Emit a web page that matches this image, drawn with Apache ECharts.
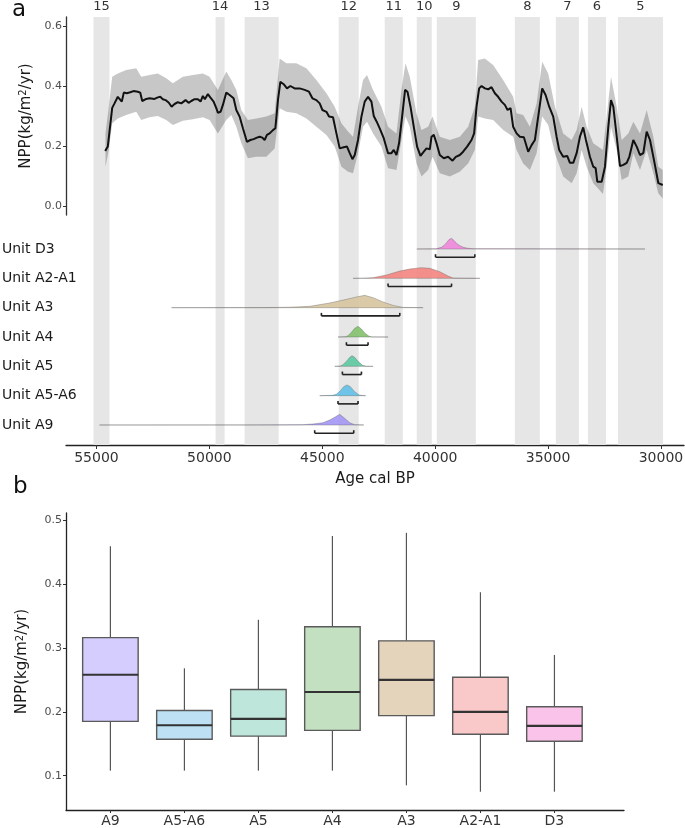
<!DOCTYPE html>
<html><head><meta charset="utf-8">
<script src="https://cdn.jsdelivr.net/npm/echarts@6/dist/echarts.min.js"></script>
<style>html,body{margin:0;padding:0;background:#fff}#c{width:685px;height:828px}</style>
</head><body><div id="c"></div>
<script>
// ---------- DATA ----------
const units = ['A9','A5-A6','A5','A4','A3','A2-A1','D3'];
const ageTicks = [30000,35000,40000,45000,50000,55000];
const nppTicksA = [0,0.2,0.4,0.6];
const nppTicksB = [0.1,0.2,0.3,0.4,0.5];

const bandLabels = ['15','14','13','12','11','10','9','8','7','6','5'];
const bandStart  = [55133,49725,48440,44273,42234,40816,39929,36472,34654,33235,31906];
const bandEnd    = [54424,49326,46933,43387,41436,40151,38200,35363,33634,32437,29911];

const ages = [54614,54499,54304,54202,54056,53980,53879,53790,53657,53506,
53360,53169,53063,52974,52797,52650,52429,52283,52176,52061,
51941,51795,51675,51542,51396,51245,51055,50922,50802,50656,
50509,50390,50288,50199,50066,49960,49813,49694,49623,49503,
49401,49251,49104,48927,48807,48661,48515,48337,48186,48040,
47894,47774,47654,47552,47450,47331,47185,47078,46963,46857,
46710,46564,46413,46223,46001,45779,45589,45438,45261,45114,
44994,44817,44702,44525,44374,44228,44050,43904,43784,43665,
43563,43417,43266,43120,42973,42823,42720,42590,42456,42278,
42087,41937,41834,41715,41600,41448,41333,41226,41093,40947,
40801,40650,40504,40384,40238,40162,40060,39941,39795,39617,
39427,39232,39086,38909,38762,38585,38390,38275,38168,38053,
37946,37800,37654,37504,37357,37211,37060,36914,36794,36661,
36546,36395,36248,36071,35880,35730,35584,35437,35260,35109,
34950,34772,34623,34507,34330,34152,34032,33885,33735,33589,
33443,33323,33146,32998,32893,32821,32626,32480,32333,32213,
32111,31992,31815,31667,31517,31402,31224,31074,30929,30782,
30633,30486,30309,30116,29922];
const npp = [0.183,0.198,0.327,0.342,0.364,0.359,0.348,0.378,0.376,0.379,
0.383,0.381,0.378,0.35,0.357,0.359,0.357,0.362,0.364,0.356,
0.353,0.344,0.331,0.34,0.346,0.342,0.353,0.344,0.35,0.356,
0.356,0.348,0.367,0.356,0.373,0.362,0.348,0.326,0.311,0.314,
0.337,0.378,0.37,0.359,0.32,0.298,0.259,0.214,0.22,0.223,
0.228,0.231,0.228,0.22,0.237,0.242,0.253,0.259,0.353,0.414,
0.406,0.392,0.4,0.392,0.392,0.387,0.381,0.359,0.353,0.342,
0.32,0.314,0.298,0.296,0.242,0.192,0.196,0.198,0.176,0.156,
0.17,0.22,0.298,0.348,0.364,0.348,0.30,0.281,0.259,0.226,
0.176,0.176,0.187,0.17,0.209,0.309,0.387,0.381,0.331,0.264,
0.198,0.167,0.181,0.192,0.189,0.231,0.237,0.209,0.17,0.159,
0.164,0.151,0.164,0.17,0.181,0.198,0.22,0.242,0.331,0.392,
0.4,0.392,0.389,0.396,0.376,0.364,0.348,0.337,0.32,0.326,
0.264,0.242,0.231,0.229,0.181,0.203,0.22,0.298,0.392,0.37,
0.331,0.298,0.231,0.187,0.164,0.167,0.144,0.144,0.176,0.231,
0.262,0.22,0.164,0.131,0.126,0.081,0.081,0.131,0.264,0.353,
0.331,0.253,0.133,0.137,0.144,0.164,0.22,0.198,0.17,0.176,
0.248,0.22,0.153,0.076,0.07];

const ribbonAges = [54601,54455,54304,54056,53684,53240,53018,52650,52283,51910,
51618,51174,50731,50288,49991,49623,49251,49029,48807,48586,
48293,47921,47478,47109,46888,46591,46148,45704,45261,44817,
44450,44153,43860,43638,43417,43195,43018,42752,42380,42087,
41715,41493,41316,41125,40828,40606,40313,40118,39795,39352,
38909,38540,38243,38097,37800,37432,36989,36546,36395,36102,
35805,35508,35260,34994,34697,34330,33956,33735,33513,33292,
32998,32567,32405,32213,31961,31740,31447,31224,30929,30633,
30338,30116,29922];
const ribbonHigh = [0.242,0.331,0.431,0.442,0.453,0.459,0.431,0.437,0.442,0.426,
0.409,0.431,0.437,0.442,0.431,0.387,0.448,0.42,0.387,0.32,
0.287,0.292,0.298,0.309,0.492,0.476,0.476,0.459,0.42,0.376,
0.331,0.276,0.248,0.231,0.331,0.42,0.437,0.387,0.331,0.264,
0.242,0.387,0.476,0.431,0.309,0.253,0.264,0.298,0.231,0.22,
0.231,0.264,0.331,0.487,0.492,0.47,0.42,0.364,0.309,0.303,
0.264,0.342,0.481,0.442,0.331,0.242,0.22,0.253,0.331,0.264,
0.209,0.187,0.298,0.431,0.331,0.22,0.242,0.281,0.242,0.32,
0.231,0.131,0.12];
const ribbonLow = [0.131,0.187,0.276,0.292,0.303,0.314,0.287,0.296,0.3,0.287,
0.27,0.284,0.289,0.296,0.287,0.242,0.287,0.303,0.264,0.209,
0.159,0.164,0.164,0.192,0.326,0.314,0.309,0.292,0.264,0.237,
0.198,0.131,0.114,0.109,0.176,0.264,0.281,0.242,0.198,0.126,
0.12,0.22,0.298,0.264,0.142,0.098,0.12,0.164,0.109,0.098,
0.114,0.142,0.187,0.298,0.292,0.287,0.253,0.231,0.187,0.142,
0.12,0.176,0.298,0.27,0.176,0.098,0.076,0.109,0.187,0.131,
0.076,0.04,0.131,0.264,0.187,0.087,0.098,0.176,0.12,0.187,
0.109,0.042,0.025];

// ridge density profiles: [age, relative height]
const ridgeA9   = [[54867,0],[50000,0.002],[48000,0.003],[46500,0.006],[45855,0.01],[45411,0.034],[44968,0.078],[44671,0.17],[44450,0.262],[44228,0.365],[44007,0.228],[43785,0.078],[43563,0.01],[43164,0]];
const ridgeA5A6 = [[45115,0],[44550,0.01],[44374,0.045],[44197,0.17],[44050,0.307],[43904,0.365],[43754,0.307],[43563,0.136],[43373,0.024],[43200,0.003],[43076,0]];
const ridgeA5   = [[44450,0],[44200,0.01],[44082,0.058],[43904,0.194],[43785,0.307],[43683,0.365],[43563,0.307],[43417,0.17],[43222,0.034],[43050,0.003],[42752,0]];
const ridgeA4   = [[44303,0],[43960,0.01],[43860,0.045],[43710,0.16],[43563,0.297],[43417,0.365],[43266,0.273],[43120,0.136],[42929,0.024],[42800,0.003],[42087,0]];
const ridgeA3   = [[51675,0],[47500,0.003],[46444,0.015],[45558,0.045],[44671,0.16],[43931,0.283],[43488,0.365],[43120,0.42],[42752,0.341],[42309,0.194],[41865,0.078],[41422,0.01],[40535,0]];
const ridgeA2A1 = [[43636,0],[43200,0.005],[42752,0.024],[42157,0.113],[41568,0.249],[41125,0.317],[40606,0.365],[40238,0.341],[39795,0.228],[39427,0.078],[39206,0.01],[38022,0]];
const ridgeD3   = [[40814,0],[39972,0.005],[39720,0.058],[39609,0.12],[39498,0.215],[39387,0.32],[39276,0.365],[39165,0.29],[39054,0.194],[38921,0.12],[38762,0.058],[38555,0.025],[38332,0.01],[30707,0]];
const ridges = [ridgeA9, ridgeA5A6, ridgeA5, ridgeA4, ridgeA3, ridgeA2A1, ridgeD3];

const rangeStart = [45336,44303,44109,43931,45039,42087,39985];
const rangeEnd   = [43607,43417,43266,42973,41568,39276,38243];

// boxplot stats: min, q1, median, q3, max
const boxMin = [0.108,0.108,0.108,0.108,0.085,0.075,0.075];
const boxQ1  = [0.185,0.157,0.162,0.171,0.194,0.165,0.154];
const boxMed = [0.258,0.179,0.189,0.231,0.25,0.2,0.178];
const boxQ3  = [0.316,0.202,0.235,0.333,0.311,0.254,0.208];
const boxMax = [0.459,0.268,0.344,0.475,0.48,0.387,0.289];

const ridgeColors = ['rgba(163,150,245,0.9)','rgba(96,192,232,0.9)','rgba(92,200,160,0.9)','rgba(130,193,106,0.9)','rgba(214,196,158,0.9)','rgba(243,133,127,0.9)','rgba(240,134,220,0.9)'];
const boxColors = ['#d5cdfd','#bde0f4','#bfe6db','#c3e0c0','#e4d4bc','#f9c9c9','#fac4ea'];

// ---------- CHART ----------
const chart = echarts.init(document.getElementById('c'), null, {renderer:'canvas'});
const FONT = 'DejaVu Sans';
const nppName = 'NPP(kg/m{s|2}/yr)';
const nameStyle = {fontSize:15, color:'#1a1a1a', fontFamily:FONT, rich:{s:{fontSize:10, verticalAlign:'top', color:'#1a1a1a', fontFamily:FONT}}};

const option = {
  animation:false,
  textStyle:{fontFamily:FONT},
  grid:[
    {left:66, right:1, top:17, height:198, containLabel:false, outerBoundsMode:'none'},
    {left:66, right:1, top:17, height:428, containLabel:false, outerBoundsMode:'none'},
    {left:66, right:61, top:513, height:297, containLabel:false, outerBoundsMode:'none'}
  ],
  xAxis:[
    {gridIndex:0, type:'value', min:28980, max:56350, inverse:true, show:false},
    {gridIndex:1, type:'value', min:28980, max:56350, inverse:true,
     splitLine:{show:false},
     axisLine:{onZero:false, lineStyle:{color:'#222', width:1.3}},
     axisTick:{customValues:ageTicks, length:4, lineStyle:{color:'#333'}},
     axisLabel:{customValues:ageTicks, fontSize:14, color:'#333', margin:6, formatter:v=>String(v)},
     name:'Age cal BP', nameLocation:'middle', nameGap:27,
     nameTextStyle:{fontSize:15, color:'#1a1a1a'}},
    {gridIndex:2, type:'value', min:0.4, max:7.94,
     splitLine:{show:false},
     axisLine:{onZero:false, lineStyle:{color:'#222', width:1.3}},
     axisTick:{customValues:[1,2,3,4,5,6,7], length:3, lineStyle:{color:'#333'}},
     axisLabel:{customValues:[1,2,3,4,5,6,7], fontSize:14, color:'#333', margin:4, formatter:v=>units[Math.round(v)-1]}}
  ],
  yAxis:[
    {gridIndex:0, type:'value', min:-0.03, max:0.63,
     splitLine:{show:false},
     axisLine:{show:true, onZero:false, lineStyle:{color:'#333', width:1.3}},
     axisTick:{show:true, customValues:nppTicksA, length:3, lineStyle:{color:'#333'}},
     axisLabel:{customValues:nppTicksA, fontSize:11, color:'#4d4d4d', margin:4, formatter:v=>v.toFixed(1)},
     name:nppName, nameLocation:'middle', nameGap:32, nameTextStyle:nameStyle},
    {gridIndex:1, type:'value', min:-0.682, max:13.91,
     splitLine:{show:false}, axisLine:{show:false, onZero:false}, axisTick:{show:false},
     axisLabel:{customValues:[0,1,2,3,4,5,6], align:'left', margin:64, fontSize:14, color:'#1a1a1a',
       formatter:v=>'Unit '+units[Math.round(v)]}},
    {gridIndex:2, type:'value', min:0.0464, max:0.511,
     splitLine:{show:false},
     axisLine:{show:true, onZero:false, lineStyle:{color:'#222', width:1.3}},
     axisTick:{show:true, customValues:nppTicksB, length:3, lineStyle:{color:'#333'}},
     axisLabel:{customValues:nppTicksB, fontSize:11, color:'#4d4d4d', margin:4, formatter:v=>v.toFixed(1)},
     name:nppName, nameLocation:'middle', nameGap:36, nameTextStyle:nameStyle}
  ],
  graphic:[
    {type:'text', left:12, top:-1, style:{text:'a', fontSize:23, fill:'#111', fontFamily:FONT}},
    {type:'text', left:13, top:476, style:{text:'b', fontSize:23, fill:'#111', fontFamily:FONT}}
  ],
  series:[
    // interstadial bands
    {type:'custom', xAxisIndex:1, yAxisIndex:1, z:1, silent:true,
     data: bandStart.map((s,i)=>[s, bandEnd[i]]),
     encode:{x:[0,1]},
     renderItem:(params, api)=>{
       const cs = params.coordSys;
       const a = api.coord([api.value(0), 0])[0];
       const b = api.coord([api.value(1), 0])[0];
       const x0 = Math.min(a,b), x1 = Math.max(a,b);
       return {type:'group', children:[
         {type:'rect', shape:{x:x0, y:cs.y, width:x1-x0, height:cs.height}, style:{fill:'#e6e6e6'}},
         {type:'text', style:{text:bandLabels[params.dataIndex], x:(x0+x1)/2, y:cs.y-10, align:'center', verticalAlign:'middle', fontSize:13, fill:'#333', fontFamily:FONT}}
       ]};
     }},
    // ridges + ranges
    {type:'custom', xAxisIndex:1, yAxisIndex:1, z:2, silent:true,
     data: units.map((u,i)=>[rangeStart[i], rangeEnd[i], i]),
     encode:{x:[0,1], y:2},
     renderItem:(params, api)=>{
       const i = params.dataIndex;
       const prof = ridges[i];
       const pts = prof.map(p=>api.coord([p[0], i + p[1]]));
       pts.push(api.coord([prof[prof.length-1][0], i]));
       pts.push(api.coord([prof[0][0], i]));
       const yb = i - 0.28;
       const r0 = api.coord([api.value(0), yb]);
       const r1 = api.coord([api.value(1), yb]);
       return {type:'group', children:[
         {type:'polygon', shape:{points:pts}, style:{fill:ridgeColors[i], stroke:'rgba(90,90,90,0.5)', lineWidth:0.7}},
         {type:'line', shape:{x1:r0[0], y1:r0[1], x2:r1[0], y2:r1[1]}, style:{stroke:'#222', lineWidth:1.6}},
         {type:'line', shape:{x1:r0[0], y1:r0[1], x2:r0[0], y2:r0[1]-3}, style:{stroke:'#222', lineWidth:1.6}},
         {type:'line', shape:{x1:r1[0], y1:r1[1], x2:r1[0], y2:r1[1]-3}, style:{stroke:'#222', lineWidth:1.6}}
       ]};
     }},
    // ribbon
    {type:'custom', xAxisIndex:0, yAxisIndex:0, z:3, silent:true,
     data:[[ribbonAges[0], ribbonHigh[0]]],
     renderItem:(params, api)=>{
       const pts = [];
       for (let k=0;k<ribbonAges.length;k++) pts.push(api.coord([ribbonAges[k], ribbonHigh[k]]));
       for (let k=ribbonAges.length-1;k>=0;k--) pts.push(api.coord([ribbonAges[k], ribbonLow[k]]));
       return {type:'polygon', shape:{points:pts}, style:{fill:'rgba(0,0,0,0.22)'}};
     }},
    // NPP line
    {type:'line', xAxisIndex:0, yAxisIndex:0, z:4, silent:true, symbol:'none',
     data: ages.map((a,k)=>[a, npp[k]]),
     lineStyle:{color:'#111', width:2}},
    // boxplot
    {type:'custom', xAxisIndex:2, yAxisIndex:2, z:2, silent:true,
     data: units.map((u,i)=>[i+1, boxMin[i], boxQ1[i], boxMed[i], boxQ3[i], boxMax[i]]),
     encode:{x:0, y:[1,2,3,4,5]},
     renderItem:(params, api)=>{
       const x = api.value(0);
       const pMin = api.coord([x, api.value(1)]);
       const pQ1 = api.coord([x, api.value(2)]);
       const pMed = api.coord([x, api.value(3)]);
       const pQ3 = api.coord([x, api.value(4)]);
       const pMax = api.coord([x, api.value(5)]);
       const w = api.size([0.75, 0])[0];
       const cx = pMed[0];
       return {type:'group', children:[
         {type:'line', shape:{x1:cx, y1:pMax[1], x2:cx, y2:pQ3[1]}, style:{stroke:'#555', lineWidth:1.2}},
         {type:'line', shape:{x1:cx, y1:pQ1[1], x2:cx, y2:pMin[1]}, style:{stroke:'#555', lineWidth:1.2}},
         {type:'rect', shape:{x:cx-w/2, y:pQ3[1], width:w, height:pQ1[1]-pQ3[1]}, style:{fill:boxColors[params.dataIndex], stroke:'#5a5a5a', lineWidth:1.4}},
         {type:'line', shape:{x1:cx-w/2, y1:pMed[1], x2:cx+w/2, y2:pMed[1]}, style:{stroke:'#333', lineWidth:2.2}}
       ]};
     }}
  ]
};
chart.setOption(option);
</script>
</body></html>
